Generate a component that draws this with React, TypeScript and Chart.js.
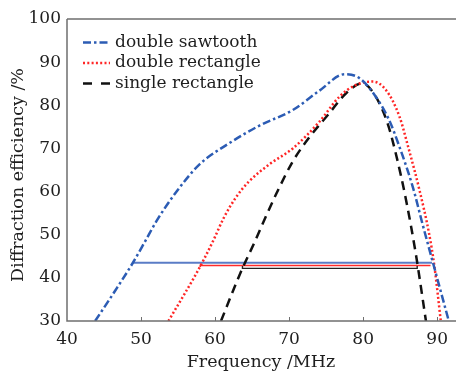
import React, { useEffect, useRef } from "react";
import { Chart, registerables } from "chart.js";

Chart.register(...registerables);

// Frequency (MHz) / diffraction efficiency (%) pairs
const sawtoothX = [43.8, 46.5, 48.9, 50.5, 52.1, 54.8, 57.9, 62.0, 66.0, 70.5, 74.1, 77.5, 79.5, 81.7, 83.5, 84.9, 86.7, 88.0, 89.4, 91.6];
const sawtoothY = [30.0, 37.0, 43.5, 48.3, 53.2, 60.0, 66.3, 71.3, 75.3, 78.9, 83.4, 87.2, 86.3, 82.0, 76.6, 70.4, 61.1, 52.6, 43.7, 29.8];

const dblRectX = [53.7, 55.5, 57.2, 58.5, 59.8, 61.2, 62.8, 64.5, 67.4, 70.5, 74.1, 76.8, 79.0, 81.3, 83.1, 84.9, 86.2, 87.6, 88.9, 89.6, 90.5];
const dblRectY = [30.0, 35.2, 40.2, 44.3, 48.8, 54.0, 58.6, 62.2, 66.4, 70.0, 76.2, 82.0, 84.7, 85.5, 83.5, 77.4, 69.6, 60.4, 50.3, 43.0, 29.8];

const sglRectX = [60.8, 62.9, 63.8, 65.4, 66.8, 68.3, 70.5, 72.7, 75.4, 77.7, 79.9, 81.7, 83.3, 84.4, 85.8, 87.1, 88.5];
const sglRectY = [30.0, 39.0, 42.6, 48.5, 54.0, 59.6, 67.0, 72.5, 78.1, 82.8, 85.1, 82.0, 75.8, 68.9, 58.0, 45.7, 29.8];

// Bandwidth markers
const blueBandX = [48.9, 89.3];
const blueBandY = [43.5, 43.5];
const redBandX = [58.0, 58.0, 89.1];
const redBandY = [42.5, 42.85, 42.85];
const blackBandX = [63.7, 63.7, 87.3, 87.3];
const blackBandY = [42.75, 42.2, 42.2, 42.75];

const seriesLabels = ["double sawtooth", "double rectangle", "single rectangle"];
const yTitle = "Diffraction efficiency /%";
const xTicks = [40, 50, 60, 70, 80, 90];
const xMin = 40;
const xMax = 92.4;
const yMin = 30;
const yMax = 100;

const zip = (xs: number[], ys: number[]) => xs.map((x, i) => ({ x, y: ys[i] }));

const FONT = "'DejaVu Serif', serif";

const framePlugin = {
  id: "frame",
  afterDraw(chart: any) {
    const { ctx, chartArea } = chart;
    const { left, top, right, bottom } = chartArea;
    ctx.save();
    ctx.strokeStyle = "#6f6f6f";
    ctx.lineWidth = 1.5;
    ctx.setLineDash([]);
    ctx.beginPath();
    ctx.moveTo(left, top);
    ctx.lineTo(right + 2, top);
    ctx.moveTo(left, top);
    ctx.lineTo(left, bottom);
    ctx.lineTo(right + 2, bottom);
    ctx.stroke();
    // inward tick marks on x axis
    const xs = chart.scales.x;
    ctx.lineWidth = 1;
    ctx.beginPath();
    xTicks.forEach((t) => {
      if (t === xMin) return;
      const px = Math.round(xs.getPixelForValue(t)) + 0.5;
      ctx.moveTo(px, bottom);
      ctx.lineTo(px, bottom - 4);
    });
    ctx.stroke();

    // y axis title
    ctx.fillStyle = "#1e1e1e";
    ctx.font = `17.5px ${FONT}`;
    ctx.textAlign = "center";
    ctx.textBaseline = "middle";
    ctx.save();
    ctx.translate(18, 175);
    ctx.rotate(-Math.PI / 2);
    ctx.fillText(yTitle, 0, 0);
    ctx.restore();

    // legend
    const rows = [42.5, 63, 83.5];
    for (let i = 0; i < 3; i++) {
      const ds = chart.data.datasets[i];
      const y = rows[i];
      ctx.strokeStyle = ds.borderColor;
      ctx.lineWidth = ds.borderWidth;
      ctx.setLineDash(i === 2 ? [9, 9] : ds.borderDash);
      ctx.lineCap = "butt";
      ctx.beginPath();
      ctx.moveTo(83, y);
      ctx.lineTo(110, y);
      ctx.stroke();
      ctx.setLineDash([]);
      ctx.fillStyle = "#1e1e1e";
      ctx.font = `17px ${FONT}`;
      ctx.textBaseline = "middle";
      ctx.textAlign = "left";
      ctx.fillText(seriesLabels[i], 115, y);
    }
    ctx.restore();
  },
};

export default function App() {
  const ref = useRef<HTMLCanvasElement | null>(null);

  useEffect(() => {
    if (!ref.current) return;
    const chart = new Chart(ref.current, {
      type: "line",
      data: {
        datasets: [
          {
            label: seriesLabels[0],
            data: zip(sawtoothX, sawtoothY),
            borderColor: "#2c5cb4",
            borderWidth: 2.5,
            borderDash: [8, 3, 2.5, 3],
            cubicInterpolationMode: "monotone",
            pointRadius: 0,
            fill: false,
          },
          {
            label: seriesLabels[1],
            data: zip(dblRectX, dblRectY),
            borderColor: "#ff2626",
            borderWidth: 2.5,
            borderDash: [2, 2.3],
            cubicInterpolationMode: "monotone",
            pointRadius: 0,
            fill: false,
          },
          {
            label: seriesLabels[2],
            data: zip(sglRectX, sglRectY),
            borderColor: "#111111",
            borderWidth: 2.5,
            borderDash: [9, 6],
            cubicInterpolationMode: "monotone",
            pointRadius: 0,
            fill: false,
          },
          {
            label: "blue band",
            data: zip(blueBandX, blueBandY),
            borderColor: "#5a7cc6",
            borderWidth: 2,
            tension: 0,
            pointRadius: 0,
            fill: false,
          },
          {
            label: "black band",
            data: zip(blackBandX, blackBandY),
            borderColor: "#222222",
            borderWidth: 1.4,
            tension: 0,
            pointRadius: 0,
            fill: false,
          },
          {
            label: "red band",
            data: zip(redBandX, redBandY),
            borderColor: "#ff2a2a",
            borderWidth: 1.6,
            tension: 0,
            pointRadius: 0,
            fill: false,
          },
        ],
      },
      options: {
        animation: false,
        responsive: false,
        layout: { padding: { top: 19, right: 0, left: 0, bottom: 0 } },
        plugins: {
          legend: { display: false },
          tooltip: { enabled: false },
        },
        scales: {
          x: {
            type: "linear",
            min: xMin,
            max: xMax,
            afterFit: (s: any) => {
              s.height = 52;
            },
            afterBuildTicks: (s: any) => {
              s.ticks = xTicks.map((v) => ({ value: v }));
            },
            grid: { display: false, drawTicks: false },
            border: { display: false },
            ticks: {
              padding: 8,
              color: "#1e1e1e",
              font: { family: FONT, size: 17 },
              maxRotation: 0,
            },
            title: {
              display: true,
              text: "Frequency /MHz",
              color: "#1e1e1e",
              font: { family: FONT, size: 17.5 },
              padding: { top: 0, bottom: 0 },
            },
          },
          y: {
            min: yMin,
            max: yMax,
            afterFit: (s: any) => {
              s.width = 67;
            },
            grid: { display: false, drawTicks: false },
            border: { display: false },
            ticks: {
              stepSize: 10,
              padding: 6,
              color: "#1e1e1e",
              font: { family: FONT, size: 17 },
            },
            title: { display: false },
          },
        },
      },
      plugins: [framePlugin],
    } as any);
    return () => chart.destroy();
  }, []);

  return (
    <div style={{ position: "absolute", left: 0, top: 0, width: 456, height: 373, background: "#fff" }}>
      <canvas ref={ref} width={456} height={373} />
    </div>
  );
}
